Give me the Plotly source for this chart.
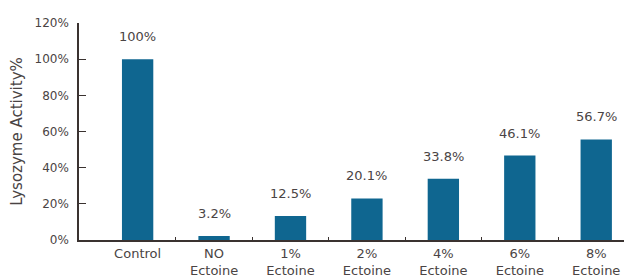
import plotly.graph_objects as go

categories = ["Control", "NO<br>Ectoine", "1%<br>Ectoine", "2%<br>Ectoine",
              "4%<br>Ectoine", "6%<br>Ectoine", "8%<br>Ectoine"]
bar_heights = [100, 2.2, 13.3, 23.0, 33.9, 46.7, 55.6]
value_labels = ["100%", "3.2%", "12.5%", "20.1%", "33.8%", "46.1%", "56.7%"]
y_ticks = [0, 20, 40, 60, 80, 100, 120]
y_ticktext = ["0%", "20%", "40%", "60%", "80%", "100%", "120%"]

xs = list(range(len(categories)))
FONT = "DejaVu Sans"
TXT = "#4a4444"

fig = go.Figure()
fig.add_trace(go.Bar(x=xs, y=bar_heights, marker_color="#0f6690",
                     marker_line_width=0, width=0.41, hoverinfo="skip"))

for x, h, t in zip(xs, bar_heights, value_labels):
    fig.add_annotation(x=x, y=h, text=t, showarrow=False, yanchor="bottom",
                       yshift=13, font=dict(family=FONT, size=13, color=TXT))

fig.update_layout(
    width=624, height=269,
    margin=dict(l=70.5, r=0, t=14.7, b=37),
    plot_bgcolor="white", paper_bgcolor="white",
    showlegend=False,
    font=dict(family=FONT, size=13, color=TXT),
)
fig.update_xaxes(
    range=[-0.767, 6.468], tickmode="array", tickvals=xs, ticktext=categories,
    ticks="", showgrid=False, zeroline=False, automargin=False,
    showline=True, linecolor="#3a3230", linewidth=1.5,
    tickfont=dict(family=FONT, size=13, color=TXT),
    ticklabelstandoff=1,
    minor=dict(tickmode="array", tickvals=[x + 0.5 for x in xs[:-1]],
               ticks="inside", ticklen=3, tickcolor="#3a3230", tickwidth=1.2),
)
fig.update_yaxes(
    range=[0, 120], tickmode="array", tickvals=y_ticks, ticktext=y_ticktext,
    ticks="inside", ticklen=7, tickcolor="#3a3230", tickwidth=1.2,
    showgrid=False, zeroline=False, automargin=False,
    showline=True, linecolor="#3a3230", linewidth=1.5,
    tickfont=dict(family=FONT, size=12, color=TXT),
    ticklabelstandoff=6,
    title=dict(text="Lysozyme Activity%", font=dict(family=FONT, size=15, color=TXT),
               standoff=8),
)

fig.write_html("out.html")
